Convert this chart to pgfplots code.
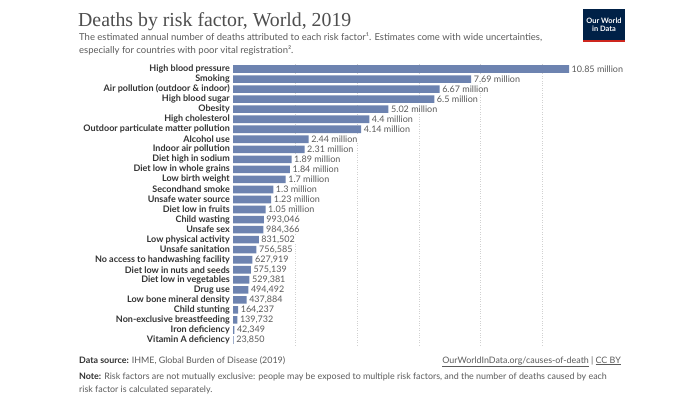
\documentclass[border=0pt]{standalone}
\usepackage{pgfplots}
\pgfplotsset{compat=1.18}
\usepackage{pgfplotstable}
\usepackage{fontspec}
\setmainfont{Lato}
\newfontfamily\titlefont{Liberation Serif}
\definecolor{barblue}{HTML}{6D83B0}
\definecolor{txt}{HTML}{333333}
\definecolor{sub}{HTML}{5B5B5B}
\definecolor{ttl}{HTML}{4E4E4E}
\definecolor{owidnavy}{HTML}{002147}
\definecolor{owidred}{HTML}{CE261E}

\pgfplotstableread[col sep=semicolon]{
pos;val;lab;name
0;0.023850;23,850;Vitamin A deficiency
1;0.042349;42,349;Iron deficiency
2;0.139732;139,732;Non-exclusive breastfeeding
3;0.164237;164,237;Child stunting
4;0.437884;437,884;Low bone mineral density
5;0.494492;494,492;Drug use
6;0.529381;529,381;Diet low in vegetables
7;0.575139;575,139;Diet low in nuts and seeds
8;0.627919;627,919;No access to handwashing facility
9;0.756585;756,585;Unsafe sanitation
10;0.831502;831,502;Low physical activity
11;0.984366;984,366;Unsafe sex
12;0.993046;993,046;Child wasting
13;1.05;1.05 million;Diet low in fruits
14;1.23;1.23 million;Unsafe water source
15;1.30;1.3 million;Secondhand smoke
16;1.70;1.7 million;Low birth weight
17;1.84;1.84 million;Diet low in whole grains
18;1.89;1.89 million;Diet high in sodium
19;2.31;2.31 million;Indoor air pollution
20;2.44;2.44 million;Alcohol use
21;4.14;4.14 million;Outdoor particulate matter pollution
22;4.40;4.4 million;High cholesterol
23;5.02;5.02 million;Obesity
24;6.50;6.5 million;High blood sugar
25;6.67;6.67 million;Air pollution (outdoor \& indoor)
26;7.69;7.69 million;Smoking
27;10.85;10.85 million;High blood pressure
}\datatable

\begin{document}
\begin{tikzpicture}
\useasboundingbox[fill=white] (0,0) rectangle (700pt,-394pt);
% title and subtitle
\node[anchor=base west, inner sep=0pt, font=\titlefont\fontsize{19.8}{22}\selectfont, text=ttl] at (78pt,-26pt) {Deaths by risk factor, World, 2019};
\node[anchor=base west, inner sep=0pt, font=\fontsize{9.5}{11}\selectfont, text=sub] at (79pt,-40.5pt) {The estimated annual number of deaths attributed to each risk factor¹. Estimates come with wide uncertainties,};
\node[anchor=base west, inner sep=0pt, font=\fontsize{9.5}{11}\selectfont, text=sub] at (79pt,-53.5pt) {especially for countries with poor vital registration².};
% logo
\fill[owidnavy] (583pt,-9pt) rectangle (625pt,-42pt);
\fill[owidred] (583pt,-40pt) rectangle (625pt,-42pt);
\node[text=white, font=\fontsize{7.4}{8}\selectfont\bfseries, align=center, inner sep=0pt] at (604pt,-24.5pt) {Our World\\in Data};

\begin{axis}[
  at={(233pt,-345pt)}, anchor=south west,
  scale only axis, width=336pt, height=281pt,
  xmin=0, xmax=10.85, ymin=-0.5, ymax=27.5,
  xbar, bar width=7.6pt, bar shift=0pt,
  axis line style={draw=none},
  major tick length=0pt,
  xtick={2,4,6,8,10}, xticklabels={},
  xmajorgrids, grid style={dotted, black!18, line width=0.6pt},
  ytick={0,...,27}, yticklabels from table={\datatable}{name},
  yticklabel style={font=\fontsize{9}{10}\selectfont\bfseries, text=txt, inner sep=0pt, xshift=-3pt},
  nodes near coords, point meta=explicit symbolic,
  nodes near coords style={font=\fontsize{9}{10}\selectfont, text=sub, anchor=west, fill=white, inner ysep=0.5pt, inner xsep=1pt, xshift=1.5pt},
  clip=false,
]
\addplot[fill=barblue, draw=none] table[x=val, y=pos, meta=lab] {\datatable};
\end{axis}

% footer
\node[anchor=base west, inner sep=0pt, font=\fontsize{8.9}{10}\selectfont, text=sub] at (79pt,-363pt) {\textbf{\color{txt}Data source:} IHME, Global Burden of Disease (2019)};
\node[anchor=base east, inner sep=0pt, font=\fontsize{8.9}{10}\selectfont, text=sub] at (621pt,-363pt) {\underline{OurWorldInData.org/causes-of-death} | \underline{CC BY}};
\node[anchor=base west, inner sep=0pt, font=\fontsize{8.9}{10}\selectfont, text=sub] at (79pt,-379pt) {\textbf{\color{txt}Note:} Risk factors are not mutually exclusive: people may be exposed to multiple risk factors, and the number of deaths caused by each};
\node[anchor=base west, inner sep=0pt, font=\fontsize{8.9}{10}\selectfont, text=sub] at (79pt,-392pt) {risk factor is calculated separately.};
\end{tikzpicture}
\end{document}
